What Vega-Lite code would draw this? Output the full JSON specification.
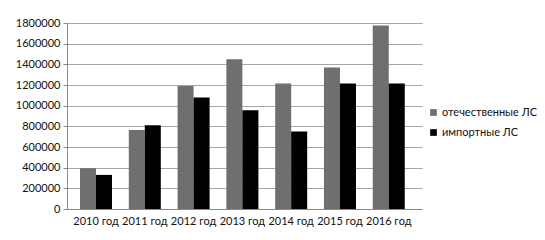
{
  "$schema": "https://vega.github.io/schema/vega-lite/v6.json",
  "width": 355,
  "height": 186,
  "autosize": {"type": "none"},
  "padding": {"left": 67, "top": 23, "right": 123, "bottom": 31},
  "background": "white",
  "config": {
    "view": {"stroke": null},
    "font": "Lato",
    "axis": {"labelFont": "Lato", "labelFontSize": 11, "labelColor": "#111", "domainColor": "#888", "tickColor": "#888", "gridColor": "#a6a6a6"},
    "legend": {"labelFont": "Lato", "labelFontSize": 11, "labelColor": "#111"}
  },
  "data": {
    "values": [
      {"year": "2010 год", "type": "отечественные  ЛС", "value": 395000},
      {"year": "2010 год", "type": "импортные ЛС", "value": 330000},
      {"year": "2011 год", "type": "отечественные  ЛС", "value": 765000},
      {"year": "2011 год", "type": "импортные ЛС", "value": 810000},
      {"year": "2012 год", "type": "отечественные  ЛС", "value": 1190000},
      {"year": "2012 год", "type": "импортные ЛС", "value": 1080000},
      {"year": "2013 год", "type": "отечественные  ЛС", "value": 1450000},
      {"year": "2013 год", "type": "импортные ЛС", "value": 955000},
      {"year": "2014 год", "type": "отечественные  ЛС", "value": 1215000},
      {"year": "2014 год", "type": "импортные ЛС", "value": 750000},
      {"year": "2015 год", "type": "отечественные  ЛС", "value": 1370000},
      {"year": "2015 год", "type": "импортные ЛС", "value": 1215000},
      {"year": "2016 год", "type": "отечественные  ЛС", "value": 1775000},
      {"year": "2016 год", "type": "импортные ЛС", "value": 1215000}
    ]
  },
  "mark": {"type": "bar"},
  "encoding": {
    "x": {
      "field": "year", "type": "nominal", "title": null,
      "scale": {"paddingInner": 0.344, "paddingOuter": 0.31, "align": 0.43},
      "axis": {"labelAngle": 0, "labelDx": -6, "labelPadding": 6, "ticks": false, "grid": false}
    },
    "xOffset": {"field": "type", "type": "nominal", "sort": ["отечественные  ЛС", "импортные ЛС"]},
    "y": {
      "field": "value", "type": "quantitative", "title": null,
      "scale": {"domain": [0, 1800000], "nice": false},
      "axis": {"values": [0, 200000, 400000, 600000, 800000, 1000000, 1200000, 1400000, 1600000, 1800000], "format": "d", "tickSize": 4, "labelPadding": 3}
    },
    "color": {
      "field": "type", "type": "nominal", "sort": ["отечественные  ЛС", "импортные ЛС"],
      "scale": {"domain": ["отечественные  ЛС", "импортные ЛС"], "range": ["#6f6f6f", "#000000"]},
      "legend": {"title": null, "orient": "none", "legendX": 361, "legendY": 84, "symbolType": "square", "symbolSize": 45, "labelOffset": 3, "rowPadding": 8}
    }
  }
}
